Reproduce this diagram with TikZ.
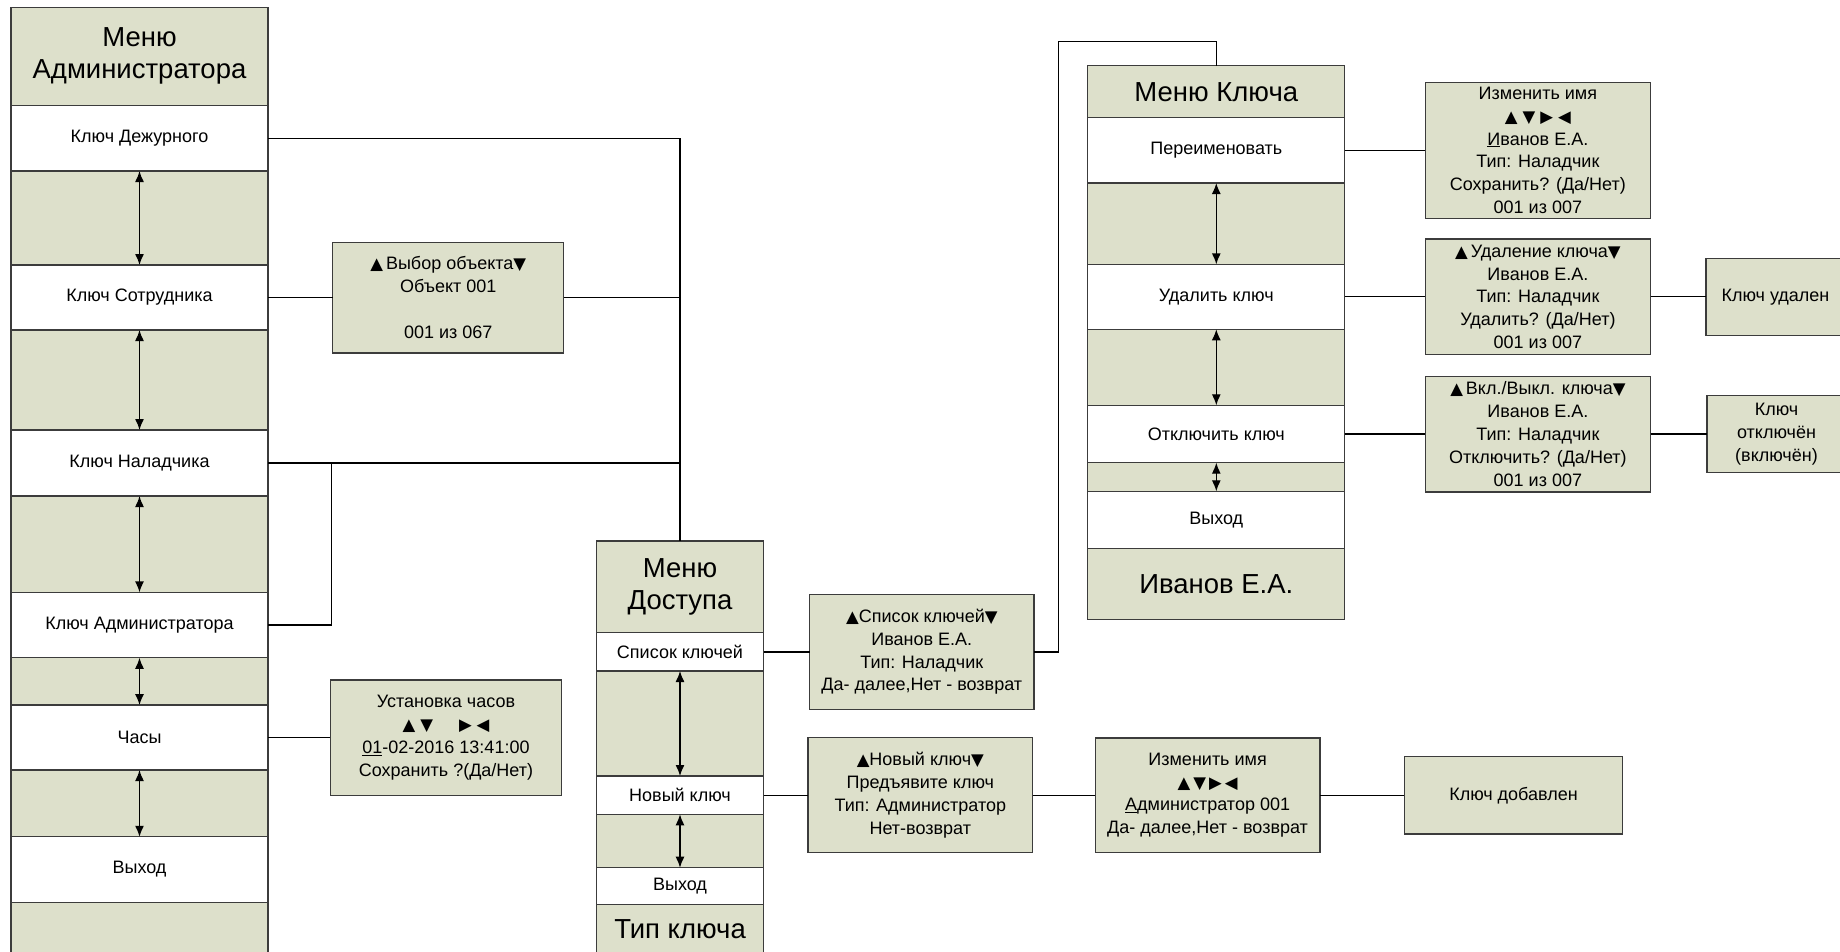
\documentclass[tikz,border=0pt]{standalone}
\usepackage{fontspec}
\setmainfont{Liberation Sans}
\newfontfamily\symfont[Scale=0.92]{DejaVu Sans}
\usetikzlibrary{arrows.meta}

\definecolor{panel}{RGB}{221,224,203}
\definecolor{edge}{RGB}{60,60,60}

\newcommand{\tup}{{\symfont ▲}}
\newcommand{\tdn}{{\symfont ▼}}
\newcommand{\trt}{{\symfont ▶}}
\newcommand{\tlt}{{\symfont ◀}}

\begin{document}
\begin{tikzpicture}[x=1pt, y=-1pt,
	menubox/.style = {draw=edge, line width=1.3pt, inner sep=0pt, outer sep=0pt},
	hdr/.style = {menubox, fill=panel, align=center, font=\fontsize{27.5}{32}\selectfont},
	item/.style = {menubox, fill=white, font=\fontsize{18}{22.8}\selectfont},
	gap/.style = {menubox, fill=panel},
	info/.style = {menubox, fill=panel, align=center, font=\fontsize{18}{22.8}\selectfont},
	acol/.style = {minimum width=257},
	dcol/.style = {minimum width=167.4},
	kcol/.style = {minimum width=257},
	link/.style = {line width=1.3pt},
	updown/.style = {line width=1.3pt, {Latex[length=11pt,width=9pt]}-{Latex[length=11pt,width=9pt]}}]

	\useasboundingbox (0,0) rectangle (1840,951);

	% Menu administratora
	\node [hdr, acol, minimum height=98] (ahead) at (139.5,56.3) {Меню\\Администратора};
	\node [item, acol, minimum height=65.7] (aduty) at (139.5,138.2) {Ключ Дежурного};
	\node [gap, acol, minimum height=94] (ag1) at (139.5,218) {};
	\node [item, acol, minimum height=65] (asotr) at (139.5,297.5) {Ключ Сотрудника};
	\node [gap, acol, minimum height=100] (ag2) at (139.5,380) {};
	\node [item, acol, minimum height=66] (anal) at (139.5,463) {Ключ Наладчика};
	\node [gap, acol, minimum height=96.3] (ag3) at (139.5,544.2) {};
	\node [item, acol, minimum height=65.4] (aadm) at (139.5,625) {Ключ Администратора};
	\node [gap, acol, minimum height=47.3] (ag4) at (139.5,681.4) {};
	\node [item, acol, minimum height=65] (achas) at (139.5,737.5) {Часы};
	\node [gap, acol, minimum height=66.7] (ag5) at (139.5,803.4) {};
	\node [item, acol, minimum height=65.6] (avyh) at (139.5,869.5) {Выход};
	\node [gap, acol, minimum height=50.7] (ag6) at (139.5,927.7) {};

	\node [info, minimum width=231.2, minimum height=110.7] (vybor) at (448.2,297.5)
		{\tup\,Выбор объекта\tdn\\Объект 001\\~\\001 из 067};
	\node [info, minimum width=231.2, minimum height=115.3] (chasy) at (446,737.5)
		{Установка часов\\\tup\ \tdn\hspace{26pt}\trt\ \tlt\\\underline{01}-02-2016 13:41:00\\Сохранить ?(Да/Нет)};

	% Menu dostupa
	\node [hdr, dcol, minimum height=91.7] (dhead) at (680,586.9) {Меню\\Доступа};
	\node [item, dcol, minimum height=38.3] (dlist) at (680,651.9) {Список ключей};
	\node [gap, dcol, minimum height=105] (dg1) at (680,723.5) {};
	\node [item, dcol, minimum height=38.3] (dnew) at (680,795.2) {Новый ключ};
	\node [gap, dcol, minimum height=53.4] (dg2) at (680,841) {};
	\node [item, dcol, minimum height=36.6] (dvyh) at (680,886) {Выход};
	\node [hdr, dcol, minimum height=48.7] (dtype) at (680,928.7) {Тип ключа};

	\node [info, minimum width=224.4, minimum height=115.3] (klist) at (921.8,651.9)
		{\tup Список ключей\tdn\\Иванов Е.А.\\Тип: Наладчик\\Да- далее,Нет - возврат};
	\node [info, minimum width=224.5, minimum height=115] (newkey) at (920.3,795.2)
		{\tup Новый ключ\tdn\\Предъявите ключ\\Тип: Администратор\\Нет-возврат};
	\node [info, minimum width=224.5, minimum height=114.4] (rename2) at (1207.6,795.2)
		{Изменить имя\\\tup\,\tdn\,\trt\,\tlt\\\underline{А}дминистратор 001\\Да- далее,Нет - возврат};
	\node [info, minimum width=218.4, minimum height=77.3] (added) at (1513.5,795.2) {Ключ добавлен};

	% Menu kljucha
	\node [hdr, kcol, minimum height=52] (khead) at (1216.3,91.7) {Меню Ключа};
	\node [item, kcol, minimum height=65.3] (kren) at (1216.3,150.3) {Переименовать};
	\node [gap, kcol, minimum height=81.3] (kg1) at (1216.3,223.7) {};
	\node [item, kcol, minimum height=65] (kdel) at (1216.3,296.8) {Удалить ключ};
	\node [gap, kcol, minimum height=76] (kg2) at (1216.3,367.3) {};
	\node [item, kcol, minimum height=57.4] (koff) at (1216.3,434) {Отключить ключ};
	\node [gap, kcol, minimum height=28.6] (kg3) at (1216.3,477) {};
	\node [item, kcol, minimum height=57] (kvyh) at (1216.3,519.8) {Выход};
	\node [hdr, kcol, minimum height=71] (kname) at (1216.3,583.8) {Иванов Е.А.};

	\node [info, minimum width=225.2, minimum height=136.3] (rename1) at (1537.9,150.3)
		{Изменить имя\\\tup\ \tdn\ \trt\ \tlt\\\underline{И}ванов Е.А.\\Тип: Наладчик\\Сохранить? (Да/Нет)\\001 из 007};
	\node [info, minimum width=225.2, minimum height=115.4] (delkey) at (1537.9,296.8)
		{\tup\,Удаление ключа\tdn\\Иванов Е.А.\\Тип: Наладчик\\Удалить? (Да/Нет)\\001 из 007};
	\node [info, minimum width=225.2, minimum height=115.7] (onoff) at (1537.9,434)
		{\tup\,Вкл./Выкл. ключа\tdn\\Иванов Е.А.\\Тип: Наладчик\\Отключить? (Да/Нет)\\001 из 007};
	\node [info, minimum width=139, minimum height=77] (deleted) at (1775.5,296.8) {Ключ удален};
	\node [info, minimum width=139, minimum height=77.3] (offed) at (1776.5,434) {Ключ\\отключён\\(включён)};

	\foreach \g in {ag1,ag2,ag3,ag4,ag5,dg1,dg2,kg1,kg2,kg3}
		\draw [updown] (\g.north) -- (\g.south);

	\coordinate (ajoin) at (331.7,463);
	\coordinate (ktop) at (1216.3,41.7);

	\draw [link] (aduty.east) -| (dhead.north);
	\draw [link] (asotr.east) -- (vybor.west);
	\draw [link] (vybor.east) -- (vybor.east -| dhead.north);
	\draw [link] (anal.east) -- (anal.east -| dhead.north);
	\draw [link] (aadm.east) -| (ajoin);
	\draw [link] (achas.east) -- (chasy.west);

	\draw [link] (dlist.east) -- (klist.west);
	\draw [link] (klist.east) -- ++(24.6,0) |- (ktop) -- (khead.north);
	\draw [link] (dnew.east) -- (newkey.west);
	\draw [link] (newkey.east) -- (rename2.west);
	\draw [link] (rename2.east) -- (added.west);

	\draw [link] (kren.east) -- (rename1.west);
	\draw [link] (kdel.east) -- (delkey.west);
	\draw [link] (delkey.east) -- (deleted.west);
	\draw [link] (koff.east) -- (onoff.west);
	\draw [link] (onoff.east) -- (offed.west);

\end{tikzpicture}
\end{document}
